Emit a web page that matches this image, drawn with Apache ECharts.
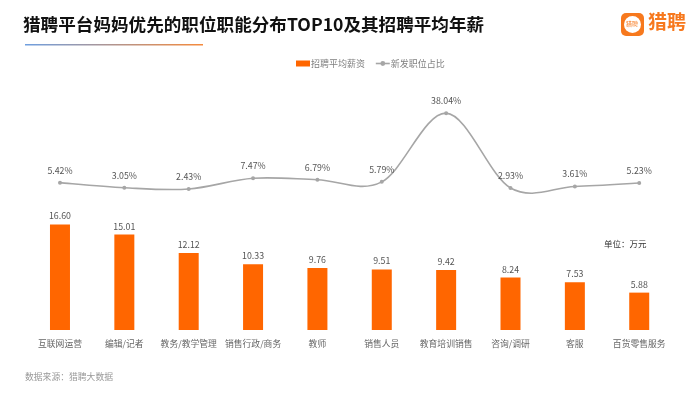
<!DOCTYPE html>
<html><head><meta charset="utf-8">
<style>html,body{margin:0;padding:0;background:#fff}#c{width:700px;height:393px}</style>
<script src="https://cdn.jsdelivr.net/npm/echarts@6/dist/echarts.min.js"></script>
</head><body><div id="c"></div>
<script>
const categories=['互联网运营','编辑/记者','教务/教学管理','销售行政/商务','教师','销售人员','教育培训销售','咨询/调研','客服','百货零售服务'];
const salary=[16.60,15.01,12.12,10.33,9.76,9.51,9.42,8.24,7.53,5.88];
const share=[5.42,3.05,2.43,7.47,6.79,5.79,38.04,2.93,3.61,5.23];
const titleText='猎聘平台妈妈优先的职位职能分布TOP10及其招聘平均年薪';
const seriesNames=['招聘平均薪资','新发职位占比'];
const unitText='单位：万元';
const sourceText='数据来源：猎聘大数据';
const F='"Noto Sans CJK SC","Noto Sans",sans-serif';
const LINE='#a6a6a6';
const chart=echarts.init(document.getElementById('c'),null,{renderer:'canvas'});
function renderCurve(params,api){
 const i=api.value(0), n=share.length;
 if(i>=n-1) return null;
 const pt=k=>api.coord([Math.max(0,Math.min(n-1,k)),share[Math.max(0,Math.min(n-1,k))]]);
 const p0=pt(i-1),p1=pt(i),p2=pt(i+1),p3=pt(i+2);
 return {type:'bezierCurve',silent:true,
  shape:{x1:p1[0],y1:p1[1],x2:p2[0],y2:p2[1],
   cpx1:p1[0]+(p2[0]-p0[0])/6,cpy1:p1[1]+(p2[1]-p0[1])/6,
   cpx2:p2[0]-(p3[0]-p1[0])/6,cpy2:p2[1]-(p3[1]-p1[1])/6},
  style:{fill:null,stroke:LINE,lineWidth:1.6}};
}
chart.setOption({
 animation:false,
 backgroundColor:'#fff',
 textStyle:{fontFamily:F},
 title:{text:titleText,left:18,top:11,textStyle:{fontSize:17.6,fontWeight:'bold',color:'#111',fontFamily:F}},
 legend:{top:54,left:291,itemGap:10,itemWidth:14,itemHeight:6,textStyle:{fontSize:9,color:'#7f7f7f',fontFamily:F,padding:[0,0,0,-4]},
  data:[{name:seriesNames[0],icon:'rect'},{name:seriesNames[1],lineStyle:{color:LINE,width:1.6,opacity:1}}]},
 grid:{left:27.8,right:28.6,top:70,bottom:63},
 xAxis:{type:'category',data:categories,axisLine:{show:false},axisTick:{show:false},axisLabel:{fontSize:8.8,color:'#666',margin:9,interval:0,fontFamily:F}},
 yAxis:[
  {type:'value',min:0,max:40.9,show:false,splitLine:{show:false}},
  {type:'value',min:-63.76,max:58.3,show:false,splitLine:{show:false}}
 ],
 series:[
  {name:seriesNames[0],type:'bar',data:salary,barWidth:20,itemStyle:{color:'#ff6600'},
   label:{show:true,position:'top',distance:4,fontSize:8.8,color:'#555',fontFamily:F,formatter:p=>p.value.toFixed(2)}},
  {type:'custom',yAxisIndex:1,data:share.map((v,i)=>[i,v]),encode:{x:0,y:1},renderItem:renderCurve,silent:true,z:2},
  {name:seriesNames[1],type:'line',yAxisIndex:1,data:share,symbol:'circle',symbolSize:4,z:3,
   lineStyle:{color:LINE,width:0,opacity:0},itemStyle:{color:LINE},
   label:{show:true,position:'top',distance:6,fontSize:8.8,color:'#555',fontFamily:F,formatter:p=>p.value.toFixed(2)+'%'}}
 ],
 graphic:[
  {type:'rect',shape:{x:25,y:44,width:178,height:1.5},style:{fill:new echarts.graphic.LinearGradient(0,0,1,0,[{offset:0,color:'#6f9fe0'},{offset:1,color:'#f58a3c'}])}},
  {type:'text',left:604,top:240,style:{text:unitText,fontSize:8.5,fill:'#333',fontFamily:F}},
  {type:'text',left:25,top:372,style:{text:sourceText,fontSize:8.8,fill:'#999',fontFamily:F}},
  {type:'rect',shape:{x:621,y:13,width:23,height:23,r:5},style:{fill:'#f7791e'}},
  {type:'circle',shape:{cx:632.5,cy:24.5,r:8.5},style:{fill:'#fff'}},
  {type:'text',x:626,y:21,style:{text:'猎聘',fontSize:6,fill:'#f7791e',fontFamily:F}},
  {type:'text',x:648,y:12,style:{text:'猎聘',fontSize:19,fontWeight:'bold',fill:'#f7791e',fontFamily:F}}
 ]
});
</script></body></html>
